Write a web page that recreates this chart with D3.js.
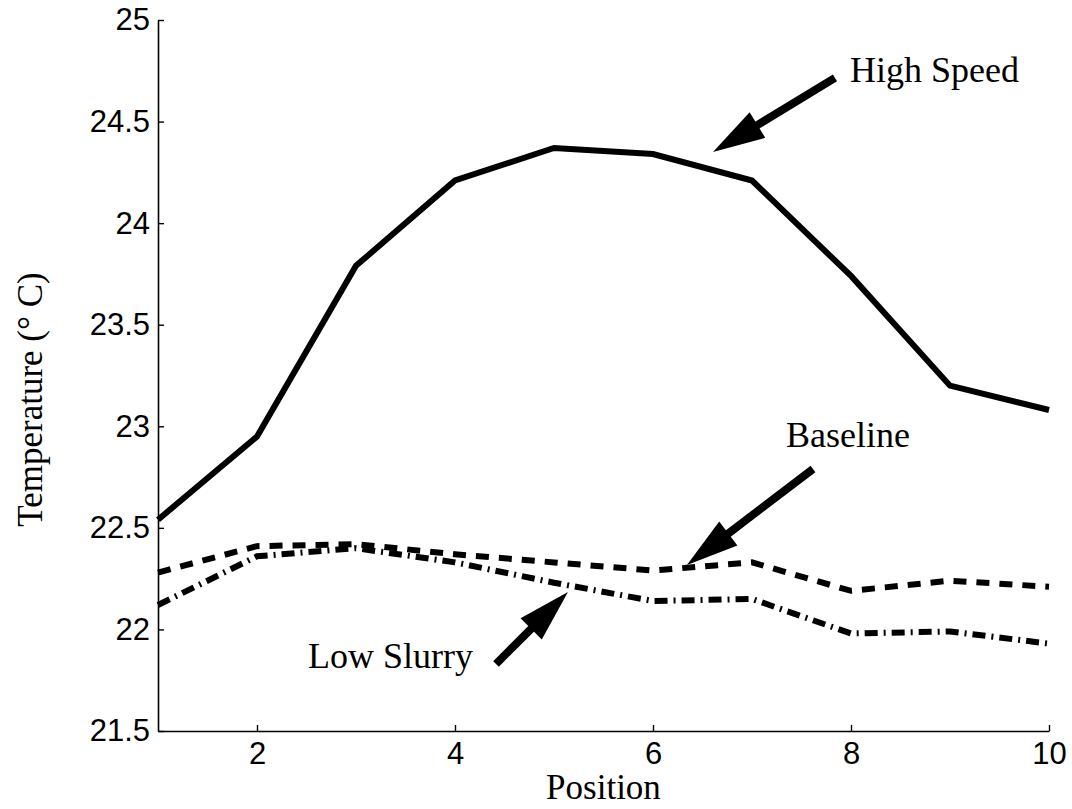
<!DOCTYPE html>
<html>
<head>
<meta charset="utf-8">
<script src="https://cdn.jsdelivr.net/npm/d3@7"></script>
<style>
  html, body { margin: 0; padding: 0; background: #fff; }
  svg { display: block; }
</style>
</head>
<body>
<svg id="chart" width="1072" height="809"></svg>
<script>
// ---- data ----
const positions = [1, 2, 3, 4, 5, 6, 7, 8, 9, 10];
const highSpeed = [22.54, 22.95, 23.79, 24.21, 24.37, 24.34, 24.21, 23.74, 23.20, 23.08];
const baseline  = [22.28, 22.41, 22.42, 22.37, 22.33, 22.29, 22.33, 22.19, 22.24, 22.21];
const lowSlurry = [22.12, 22.36, 22.40, 22.33, 22.23, 22.14, 22.15, 21.98, 21.99, 21.93];
const xTicks = [2, 4, 6, 8, 10];
const yTicks = [21.5, 22, 22.5, 23, 23.5, 24, 24.5, 25];
const xLabel = "Position";
const yLabel = "Temperature (° C)";
// annotations: label, text anchor (data coords), arrow tail & tip (data coords)
const annLabels = ["High Speed", "Baseline", "Low Slurry"];
const annText   = [[7.99, 24.695], [7.343, 22.90], [2.515, 21.81]];
const annTail   = [[7.838, 24.715], [7.616, 22.79], [4.414, 21.83]];
const annTip    = [[6.606, 24.35], [6.343, 22.317], [5.141, 22.184]];

(function () {
// ---- layout ----
const svg = d3.select("#chart");
const mLeft = 158, mTop = 20, mRight = 1049, mBottom = 731;
const x = d3.scaleLinear().domain([1, 10]).range([mLeft, mRight]);
const y = d3.scaleLinear().domain([21.5, 25]).range([mBottom, mTop]);

// axes
const xAxis = d3.axisBottom(x).tickValues(xTicks).tickSizeInner(-6).tickSizeOuter(0).tickPadding(11)
  .tickFormat(d3.format("d"));
const yAxis = d3.axisLeft(y).tickValues(yTicks).tickSizeInner(-6).tickSizeOuter(0).tickPadding(8)
  .tickFormat(d => String(d));

const gx = svg.append("g").attr("transform", `translate(0,${mBottom})`).call(xAxis);
const gy = svg.append("g").attr("transform", `translate(${mLeft},0)`).call(yAxis);
[gx, gy].forEach(g => {
  g.selectAll("path.domain").attr("stroke", "#000").attr("stroke-width", 1.6);
  g.selectAll(".tick line").attr("stroke", "#000").attr("stroke-width", 1.4);
  g.selectAll(".tick text").attr("fill", "#000")
    .style("font-family", "'Liberation Sans', Arial, Helvetica, sans-serif")
    .style("font-size", "31px");
});

// axis titles
svg.append("text")
  .attr("x", (mLeft + mRight) / 2).attr("y", 799)
  .attr("text-anchor", "middle")
  .style("font-family", "'Liberation Serif', 'Times New Roman', serif")
  .style("font-size", "35px")
  .text(xLabel);
svg.append("text")
  .attr("transform", `translate(42,${(mTop + mBottom) / 2 + 24}) rotate(-90)`)
  .attr("text-anchor", "middle")
  .style("font-family", "'Liberation Serif', 'Times New Roman', serif")
  .style("font-size", "35px")
  .text(yLabel);

// lines
const line = d3.line().x((d, i) => x(positions[i])).y(d => y(d));
const series = [
  { vals: highSpeed, dash: null },
  { vals: baseline,  dash: "13,10" },
  { vals: lowSlurry, dash: "13,6,2,6" }
];
series.forEach(s => {
  svg.append("path")
    .attr("d", line(s.vals))
    .attr("fill", "none")
    .attr("stroke", "#000")
    .attr("stroke-width", 6)
    .attr("stroke-linejoin", "miter")
    .attr("stroke-dasharray", s.dash);
});

// annotations
annLabels.forEach((lab, i) => {
  const tx = x(annTail[i][0]), ty = y(annTail[i][1]);
  const px = x(annTip[i][0]), py = y(annTip[i][1]);
  const dx = px - tx, dy = py - ty;
  const L = Math.hypot(dx, dy);
  const ux = dx / L, uy = dy / L;
  const headLen = 52, headHalf = 15;
  const bx = px - ux * headLen, by = py - uy * headLen;
  svg.append("line")
    .attr("x1", tx).attr("y1", ty).attr("x2", bx + ux * 2).attr("y2", by + uy * 2)
    .attr("stroke", "#000").attr("stroke-width", 8);
  const pts = [[px, py], [bx - uy * headHalf, by + ux * headHalf], [bx + uy * headHalf, by - ux * headHalf]];
  svg.append("polygon").attr("points", pts.map(p => p.join(",")).join(" ")).attr("fill", "#000");
  svg.append("text")
    .attr("x", x(annText[i][0])).attr("y", y(annText[i][1]))
    .style("font-family", "'Liberation Serif', 'Times New Roman', serif")
    .style("font-size", "36px")
    .text(lab);
});
})();
</script>
</body>
</html>
